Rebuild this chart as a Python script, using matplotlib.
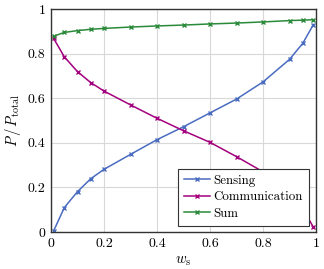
import matplotlib
matplotlib.use("Agg")
import matplotlib.pyplot as plt

# weights and normalized powers
w_s = [0.01, 0.05, 0.1, 0.15, 0.2, 0.3, 0.4, 0.5, 0.6, 0.7, 0.8, 0.9, 0.95, 0.99]
sensing = [0.005, 0.109, 0.181, 0.239, 0.281, 0.348, 0.414, 0.472, 0.534, 0.596, 0.673, 0.774, 0.846, 0.93]
communication = [0.868, 0.786, 0.719, 0.67, 0.632, 0.57, 0.51, 0.454, 0.402, 0.338, 0.27, 0.176, 0.105, 0.022]
total = [0.878, 0.895, 0.903, 0.909, 0.913, 0.919, 0.924, 0.928, 0.933, 0.937, 0.942, 0.948, 0.95, 0.952]

xticks = [0, 0.2, 0.4, 0.6, 0.8, 1]
xticklabels = ["0", "0.2", "0.4", "0.6", "0.8", "1"]
yticks = [0, 0.2, 0.4, 0.6, 0.8, 1]
yticklabels = ["0", "0.2", "0.4", "0.6", "0.8", "1"]

plt.rcParams["font.family"] = "serif"
plt.rcParams["font.serif"] = ["cmr10", "DejaVu Serif"]
plt.rcParams["mathtext.fontset"] = "cm"
plt.rcParams["axes.unicode_minus"] = False

fig = plt.figure(figsize=(3.24, 2.69), dpi=100)
ax = fig.add_axes([51 / 324, 1 - 232 / 269, 265 / 324, 223 / 269])

ax.plot(w_s, sensing, color="#4a6cc0", marker="x", markersize=3.5, lw=1.1, label="Sensing")
ax.plot(w_s, communication, color="#a4007e", marker="x", markersize=3.5, lw=1.1, label="Communication")
ax.plot(w_s, total, color="#2a8a3a", marker="x", markersize=3.5, lw=1.1, label="Sum")

ax.set_xlim(0, 1)
ax.set_ylim(0, 1)
ax.set_xticks(xticks)
ax.set_xticklabels(xticklabels)
ax.set_yticks(yticks)
ax.set_yticklabels(yticklabels)
ax.tick_params(length=0, labelsize=10, pad=4)
ax.grid(True, color="#d8d8d8", lw=0.8)
ax.set_axisbelow(True)
for s in ax.spines.values():
    s.set_linewidth(1.0)
    s.set_color("#333333")

ax.set_xlabel(r"$w_{\mathrm{s}}$", fontsize=10.5, labelpad=3)
ax.set_ylabel(r"$P\,/\,P_{\mathrm{total}}$", fontsize=10.5, labelpad=3)

leg = ax.legend(loc="lower right", bbox_to_anchor=(0.972, 0.028), fontsize=9.3,
                frameon=True, fancybox=False, edgecolor="#333333", framealpha=1,
                handlelength=2.0, handletextpad=0.3, borderpad=0.45, borderaxespad=0,
                labelspacing=0.35)
leg.get_frame().set_linewidth(0.8)

fig.savefig("out.png", dpi=100)
